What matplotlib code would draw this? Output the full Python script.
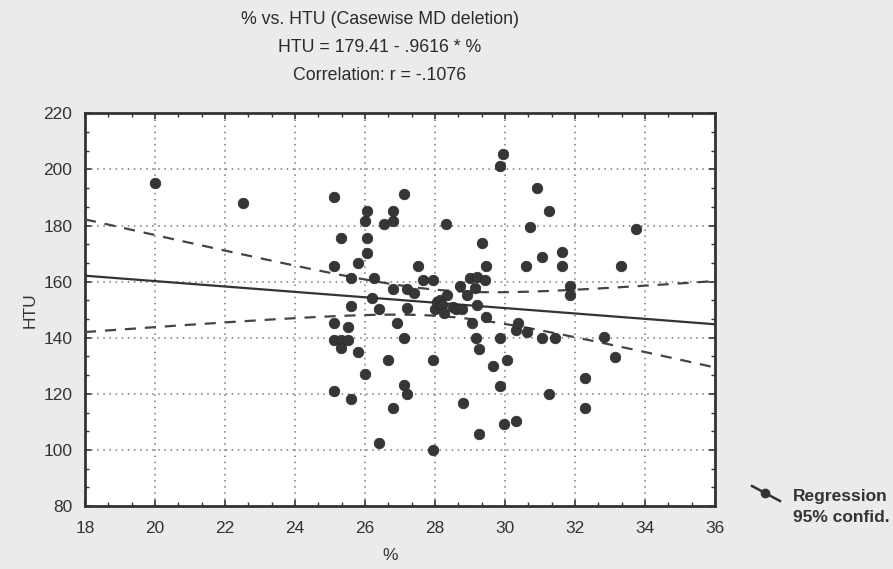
import numpy as np
import matplotlib
matplotlib.use("Agg")
import matplotlib.pyplot as plt
from matplotlib.ticker import MultipleLocator, AutoMinorLocator
from matplotlib.lines import Line2D

plt.rcParams['font.family'] = ['Liberation Sans', 'DejaVu Sans']

# ---- data ----
pct = [20.0, 22.5,
       25.1, 25.1, 25.1, 25.1, 25.1,
       25.3, 25.3, 25.3,
       25.5, 25.5,
       25.6, 25.6, 25.6,
       25.8, 25.8,
       26.0, 26.05, 26.05, 26.05, 26.0,
       26.2, 26.25,
       26.4, 26.4,
       26.55, 26.65,
       26.8, 26.8, 26.8, 26.8,
       26.9,
       27.1, 27.1, 27.1,
       27.2, 27.2, 27.2,
       27.4, 27.5, 27.65,
       27.95, 27.95, 27.95,
       28.0, 28.05, 28.15, 28.2, 28.25,
       28.3, 28.33,
       28.5, 28.6, 28.7, 28.78, 28.8,
       28.9,
       29.0, 29.05,
       29.15, 29.2, 29.17, 29.2,
       29.25, 29.25,
       29.35,
       29.43, 29.45, 29.47,
       29.65,
       29.85, 29.87, 29.85,
       29.95, 29.98,
       30.05,
       30.3, 30.3, 30.38, 30.62,
       30.6, 30.7, 30.9,
       31.05, 31.05,
       31.25, 31.27, 31.42,
       31.62, 31.62,
       31.86, 31.86,
       32.28, 32.28,
       32.84, 33.14, 33.32, 33.73]
htu = [195.0, 188.0,
       190.1, 165.6, 145.1, 139.2, 121.0,
       175.4, 139.2, 136.2,
       143.9, 139.2,
       161.3, 151.2, 118.0,
       166.5, 135.0,
       181.5, 185.2, 175.4, 170.3, 127.0,
       154.3, 161.4,
       150.1, 102.4,
       180.5, 132.0,
       185.2, 181.5, 157.3, 114.8,
       145.1,
       191.1, 140.0, 123.0,
       157.5, 150.5, 119.8,
       155.9, 165.6, 160.4,
       160.4, 132.0, 100.1,
       150.4, 152.8, 153.4, 151.6, 148.7,
       180.6, 155.2,
       151.0, 150.4, 158.5, 150.4, 116.8,
       155.2,
       161.2, 145.1,
       157.6, 161.8, 140.0, 151.5,
       135.8, 105.5,
       173.7,
       160.6, 165.6, 147.4,
       129.9,
       201.3, 140.0, 122.9,
       205.4, 109.3,
       132.0,
       142.7, 110.3, 145.1, 142.2,
       165.6, 179.6, 193.3,
       168.7, 140.0,
       185.2, 119.8, 140.0,
       170.4, 165.6,
       158.3, 155.2,
       125.8, 114.9,
       140.2, 133.0, 165.6, 178.7]

intercept = 179.41
slope = -0.9616
r_value = -0.1076

title_lines = ["% vs. HTU (Casewise MD deletion)",
               "HTU = 179.41 - .9616 * %",
               "Correlation: r = -.1076"]
legend_labels = ["Regression", "95% confid."]

x = np.array(pct)
y = np.array(htu)

# ---- figure ----
fig = plt.figure(figsize=(8.93, 5.69), dpi=100)
fig.patch.set_facecolor('#ebebeb')
ax = fig.add_axes([85/893, 1-506/569, 630/893, (506-113.3)/569])
ax.set_facecolor('white')

ax.set_xlim(18, 36)
ax.set_ylim(80, 220)
ax.xaxis.set_major_locator(MultipleLocator(2))
ax.yaxis.set_major_locator(MultipleLocator(20))
ax.xaxis.set_minor_locator(AutoMinorLocator(3))
ax.yaxis.set_minor_locator(AutoMinorLocator(3))
ax.tick_params(which='both', direction='in', top=True, right=True,
               color='#333333', labelsize=12.5, labelcolor='#333333')
ax.tick_params(which='major', length=4, width=1.2)
ax.tick_params(which='minor', length=3, width=1.0)
ax.tick_params(axis='x', which='major', pad=11)
ax.tick_params(axis='y', which='major', pad=9)
ax.grid(True, which='major', linestyle=(0, (1, 3)), color='#777777', linewidth=1.1)
for sp in ax.spines.values():
    sp.set_linewidth(2.0)
    sp.set_color('#333333')

# regression line + 95% confidence band
xs = np.linspace(18, 36, 200)
yhat = intercept + slope * xs
n = len(x)
res = y - (intercept + slope * x)
s = np.sqrt(np.sum(res**2) / (n - 2))
xbar = x.mean()
sxx = np.sum((x - xbar)**2)
tval = 1.986
half = tval * s * np.sqrt(1.0/n + (xs - xbar)**2 / sxx)

ax.plot(xs, yhat, color='#333333', lw=1.6, zorder=3)
ax.plot(xs, yhat + half, color='#444444', lw=1.6, dashes=(5, 4), zorder=3)
ax.plot(xs, yhat - half, color='#444444', lw=1.6, dashes=(5, 4), zorder=3)

ax.scatter(x, y, s=58, color='#363636', edgecolors='#2a2a2a', linewidths=0.5, zorder=4)

ax.set_ylabel('HTU', fontsize=12.5, color='#333333', labelpad=4)
fig.text(390/893, 1-555/569, '%', ha='center', va='center',
         fontsize=12.5, color='#333333')

# titles
for i, t in enumerate(title_lines):
    fig.text(380/893, 1 - (19 + 28*i)/569, t, ha='center', va='center',
             fontsize=12.8, color='#2a2a2a')

# legend (outside, lower right)
fig.add_artist(Line2D([752/893, 780/893], [1-486/569, 1-501/569],
                      color='#333333', lw=1.8, transform=fig.transFigure))
fig.add_artist(Line2D([765/893], [1-493/569], marker='o', markersize=6,
                      color='#333333', transform=fig.transFigure))
fig.text(793/893, 1-497/569, legend_labels[0], ha='left', va='center',
         fontsize=12.5, fontweight='bold', color='#333333')
fig.text(793/893, 1-517/569, legend_labels[1], ha='left', va='center',
         fontsize=12.5, fontweight='bold', color='#333333')

fig.savefig('out.png', dpi=100, facecolor=fig.get_facecolor())
